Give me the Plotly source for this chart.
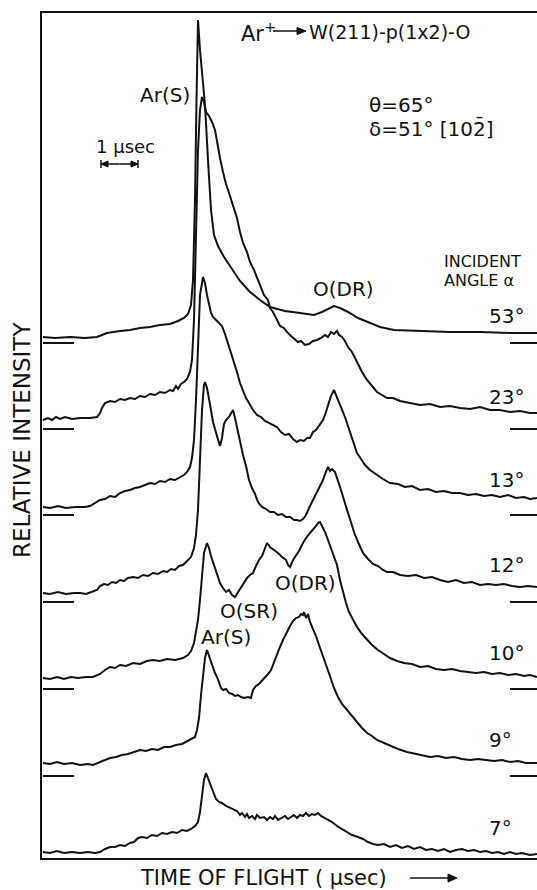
import plotly.graph_objects as go

# Time-of-flight spectra of Ar+ scattered from W(211)-p(1x2)-O.
# x: analyser channel (37 channels = 1 usec), y: counts above each trace's baseline.
CH_PER_USEC = 37

ANGLES = ["53°", "23°", "13°", "12°", "10°", "9°", "7°"]
OFFSETS = [519, 433, 347, 260, 173, 86, 0]

SPEC_53 = [(1, 6), (13, 5), (28, 6), (43, 5), (55, 6), (60, 8), (65, 10), (78, 12), (88, 13), (98, 15),
           (108, 16), (118, 18), (128, 19), (136, 22), (142, 25), (146, 29), (149, 38), (151, 63),
           (153, 143), (154.5, 243), (156, 323), (158, 293), (160, 268), (163, 238), (166, 183),
           (169, 133), (172, 108), (176, 97), (182, 86), (188, 77), (198, 62), (208, 51), (218, 43),
           (228, 36), (243, 32), (258, 30), (272, 28), (280, 31), (286, 34), (292, 37), (298, 35),
           (306, 31), (316, 25), (325, 21), (338, 16), (352, 13), (378, 12), (408, 11), (438, 11),
           (468, 10), (495, 10)]

SPEC_23 = [(1, 9), (6, 11), (10, 9), (14, 12), (18, 10), (23, 12), (30, 10), (38, 11), (48, 11), (55, 12),
           (58, 16), (60, 21), (63, 26), (68, 28), (73, 27), (78, 30), (83, 29), (88, 31), (93, 30),
           (98, 33), (103, 32), (108, 35), (113, 34), (118, 37), (123, 36), (128, 39), (131, 38),
           (134, 43), (136, 40), (139, 45), (142, 47), (145, 50), (148, 57), (150, 69), (152, 109),
           (154, 209), (156, 279), (158, 319), (160, 332), (162, 327), (164, 317), (167, 313),
           (170, 307), (173, 299), (174, 293), (176, 285), (178, 271), (181, 257), (184, 245),
           (188, 233), (192, 219), (195, 211), (198, 197), (201, 186), (205, 177), (208, 167),
           (212, 159), (215, 151), (218, 143), (222, 134), (226, 129), (228, 121), (231, 117),
           (235, 109), (238, 103), (242, 101), (245, 97), (249, 93), (252, 90), (256, 87), (259, 88),
           (263, 84), (267, 85), (271, 88), (275, 89), (279, 91), (283, 94), (286, 92), (289, 97),
           (292, 95), (295, 98), (297, 94), (300, 92), (303, 88), (306, 82), (310, 77),
           (315, 67), (320, 57), (325, 49), (330, 43), (335, 37), (340, 34), (345, 31), (351, 31),
           (358, 28), (368, 26), (378, 24), (388, 25), (398, 22), (408, 23), (418, 21), (428, 20),
           (438, 22), (448, 19), (458, 19), (468, 17), (478, 18), (488, 16), (495, 16)]

SPEC_13 = [(1, 8), (8, 7), (16, 9), (24, 7), (33, 8), (43, 8), (48, 9), (53, 12), (58, 15), (63, 16),
           (68, 19), (73, 18), (78, 22), (83, 24), (88, 25), (93, 27), (98, 28), (103, 30), (108, 32),
           (113, 31), (118, 34), (123, 33), (128, 36), (133, 35), (138, 38), (142, 40), (145, 43),
           (148, 48), (150, 57), (152, 75), (154, 115), (156, 175), (158, 220), (161, 238), (163, 232),
           (165, 220), (167, 210), (169, 202), (171, 198), (174, 195), (177, 193), (180, 189),
           (183, 181), (186, 172), (189, 162), (192, 153), (195, 143), (198, 132), (201, 125),
           (204, 117), (207, 112), (211, 105), (215, 100), (219, 98), (223, 94), (227, 92), (231, 90),
           (235, 88), (239, 83), (243, 80), (247, 81), (251, 76), (255, 73), (258, 75), (262, 74),
           (265, 77), (268, 77), (271, 83), (274, 85), (278, 91), (281, 95), (284, 103), (287, 112),
           (289, 119), (292, 125), (295, 118), (298, 111), (301, 103), (304, 95), (308, 83), (312, 70),
           (315, 62), (319, 56), (323, 50), (328, 45), (332, 42), (336, 39), (341, 36), (348, 32),
           (356, 31), (363, 28), (370, 29), (378, 25), (386, 26), (394, 23), (402, 24), (410, 22),
           (418, 22), (426, 20), (434, 21), (442, 19), (450, 20), (458, 18), (466, 20), (474, 17),
           (482, 18), (488, 16), (495, 17)]

SPEC_12 = [(1, 9), (8, 8), (16, 10), (24, 8), (32, 9), (38, 9), (44, 8), (50, 10), (55, 12), (58, 16),
           (62, 18), (66, 17), (70, 20), (74, 19), (78, 22), (82, 21), (86, 24), (91, 25), (96, 24),
           (101, 27), (106, 26), (111, 29), (116, 28), (121, 31), (125, 30), (129, 33), (133, 32),
           (137, 36), (141, 37), (145, 41), (149, 45), (152, 54), (154, 67), (156, 92), (158, 142),
           (160, 192), (162, 217), (163, 220), (165, 214), (167, 204), (169, 192), (171, 180),
           (173, 172), (175, 165), (177, 159), (178, 156), (180, 164), (182, 178), (184, 182),
           (187, 185), (189, 189), (191, 192), (193, 184), (195, 174), (197, 167), (199, 157),
           (201, 147), (204, 136), (207, 122), (210, 114), (213, 108), (216, 100), (220, 95), (224, 93),
           (228, 90), (232, 90), (236, 87), (240, 88), (244, 85), (248, 85), (252, 82), (255, 82),
           (258, 81), (261, 83), (264, 87), (267, 94), (270, 100), (273, 105), (276, 112), (279, 118),
           (281, 122), (283, 128), (285, 132), (286, 135), (288, 131), (290, 133), (293, 130),
           (296, 122), (299, 112), (302, 102), (305, 92), (308, 82), (312, 70), (316, 60), (321, 49),
           (326, 43), (331, 38), (336, 36), (341, 32), (345, 30), (351, 30), (358, 27), (366, 26),
           (374, 27), (382, 24), (390, 25), (398, 22), (406, 20), (414, 22), (422, 19), (430, 20),
           (438, 17), (446, 18), (454, 17), (462, 18), (470, 16), (478, 15), (486, 16), (495, 15)]

SPEC_10 = [(1, 11), (8, 10), (15, 12), (22, 10), (29, 12), (36, 11), (44, 12), (51, 12), (58, 15),
           (63, 19), (68, 22), (73, 21), (78, 24), (84, 23), (91, 26), (98, 25), (105, 28), (111, 29),
           (118, 28), (125, 30), (133, 29), (141, 31), (146, 34), (149, 38), (152, 46), (154, 57),
           (156, 69), (158, 89), (160, 114), (162, 136), (165, 146), (167, 141), (169, 133), (172, 124),
           (175, 114), (178, 106), (181, 101), (184, 97), (187, 99), (190, 94), (193, 92), (196, 97),
           (199, 101), (202, 106), (205, 111), (208, 114), (211, 116), (214, 123), (217, 129),
           (220, 133), (223, 141), (225, 146), (228, 142), (232, 139), (236, 136), (240, 132),
           (244, 129), (246, 124), (248, 122), (251, 129), (254, 133), (257, 138), (261, 146),
           (264, 151), (268, 156), (271, 159), (274, 163), (276, 166), (278, 167), (280, 163),
           (283, 157), (286, 149), (289, 141), (292, 134), (295, 124), (298, 109), (301, 97), (304, 86),
           (307, 77), (311, 69), (315, 62), (320, 55), (325, 49), (330, 44), (336, 39), (342, 35),
           (348, 31), (355, 28), (362, 26), (370, 25), (378, 22), (386, 23), (394, 20), (402, 19),
           (410, 20), (418, 18), (426, 17), (434, 16), (442, 17), (450, 15), (458, 16), (466, 14),
           (474, 15), (482, 13), (488, 14), (495, 12)]

SPEC_9 = [(1, 13), (8, 12), (15, 14), (22, 12), (30, 13), (38, 11), (46, 12), (51, 11), (58, 14), (63, 16),
          (68, 18), (74, 19), (80, 21), (86, 22), (92, 24), (98, 26), (104, 25), (110, 27), (116, 26),
          (122, 29), (128, 29), (134, 31), (140, 32), (146, 35), (150, 37), (153, 39), (155, 46),
          (157, 58), (159, 81), (161, 103), (163, 118), (165, 126), (167, 120), (169, 114), (171, 108),
          (173, 103), (175, 99), (177, 93), (179, 88), (181, 86), (184, 87), (187, 83), (190, 82),
          (193, 80), (196, 81), (199, 79), (202, 78), (206, 79), (209, 78), (211, 86), (214, 90),
          (217, 92), (220, 95), (223, 99), (226, 102), (229, 106), (232, 114), (235, 123), (238, 129),
          (241, 136), (245, 145), (248, 150), (251, 155), (254, 158), (257, 159), (259, 162),
          (261, 161), (262, 164), (264, 158), (266, 162), (268, 154), (271, 147), (274, 140),
          (277, 131), (280, 123), (283, 115), (286, 106), (289, 97), (292, 88), (296, 79), (300, 72),
          (305, 66), (310, 59), (315, 53), (320, 48), (325, 43), (330, 40), (335, 36), (342, 33),
          (349, 30), (356, 27), (365, 24), (373, 22), (380, 21), (388, 19), (396, 20), (404, 18),
          (412, 19), (420, 17), (428, 16), (436, 17), (444, 16), (452, 15), (460, 16), (468, 14),
          (476, 15), (484, 13), (495, 13)]

SPEC_7 = [(1, 10), (8, 9), (15, 11), (22, 9), (30, 10), (38, 9), (46, 10), (53, 9), (58, 10), (63, 13),
          (68, 15), (73, 15), (78, 17), (83, 16), (88, 19), (92, 20), (96, 24), (100, 25), (105, 24),
          (110, 27), (115, 26), (120, 29), (125, 28), (130, 30), (135, 29), (140, 32), (145, 31),
          (149, 33), (153, 36), (156, 40), (158, 50), (160, 67), (162, 82), (164, 89), (166, 84),
          (168, 77), (171, 70), (174, 63), (177, 60), (180, 59), (184, 56), (188, 54), (192, 52),
          (195, 51), (198, 47), (200, 49), (203, 45), (205, 48), (207, 44), (210, 46), (213, 43),
          (215, 47), (218, 44), (222, 45), (225, 42), (228, 45), (231, 43), (233, 46), (236, 42),
          (240, 44), (243, 46), (246, 43), (249, 45), (252, 47), (255, 44), (258, 47), (261, 46),
          (264, 49), (267, 46), (270, 48), (273, 47), (276, 49), (279, 46), (283, 44), (287, 42),
          (290, 40), (295, 36), (300, 33), (305, 30), (310, 27), (316, 25), (321, 23), (326, 20),
          (331, 18), (336, 17), (342, 18), (348, 15), (354, 17), (360, 14), (366, 16), (372, 13),
          (378, 15), (384, 12), (390, 13), (396, 11), (402, 13), (408, 10), (414, 12), (420, 13),
          (426, 11), (432, 12), (438, 10), (444, 11), (450, 9), (456, 10), (462, 8), (468, 10),
          (474, 8), (480, 9), (488, 7), (495, 8)]

SPECTRA = [SPEC_53, SPEC_23, SPEC_13, SPEC_12, SPEC_10, SPEC_9, SPEC_7]

INK = "#111111"
FONT = "DejaVu Sans"
X_MAX = 495
Y_RANGE = [4, 849]

# page geometry of the plotting frame, used for items placed outside it
W, H = 537, 890
PLOT_L, PLOT_R, PLOT_T, PLOT_B = 42, 537, 13, 858


def px_x(px):
    return (px - PLOT_L) / (PLOT_R - PLOT_L)


def px_y(py):
    return (PLOT_B - py) / (PLOT_B - PLOT_T)


fig = go.Figure()

for angle, off, spec in zip(ANGLES, OFFSETS, SPECTRA):
    fig.add_trace(go.Scatter(
        x=[p[0] for p in spec],
        y=[off + p[1] for p in spec],
        mode="lines",
        line=dict(color=INK, width=2),
        name=angle,
        showlegend=False,
        hoverinfo="skip",
    ))

shapes = []
# zero-level ticks at both ends of every offset spectrum
for off in OFFSETS[:-1]:
    shapes.append(dict(type="line", xref="x", yref="y", x0=1, x1=32, y0=off, y1=off,
                       line=dict(color=INK, width=2)))
    shapes.append(dict(type="line", xref="x", yref="y", x0=468, x1=X_MAX, y0=off, y1=off,
                       line=dict(color=INK, width=2)))


def arrow_shapes(x_tail, x_tip, y, head_len, head_half, xref="x", yref="y"):
    """Horizontal arrow: a shaft plus a filled triangular head."""
    sign = 1 if x_tip > x_tail else -1
    base = x_tip - sign * head_len
    return [
        dict(type="line", xref=xref, yref=yref, x0=x_tail, x1=base, y0=y, y1=y,
             line=dict(color=INK, width=1.5)),
        dict(type="path", xref=xref, yref=yref,
             path=f"M {x_tip},{y} L {base},{y + head_half} L {base},{y - head_half} Z",
             fillcolor=INK, line=dict(color=INK, width=1)),
    ]


# 1 usec scale bar with end stops
bar_x0 = 59
bar_x1 = bar_x0 + CH_PER_USEC
bar_y = 698
bar_mid = (bar_x0 + bar_x1) / 2
shapes += arrow_shapes(bar_mid, bar_x0, bar_y, 7, 3)
shapes += arrow_shapes(bar_mid, bar_x1, bar_y, 7, 3)
for bx in (bar_x0, bar_x1):
    shapes.append(dict(type="line", xref="x", yref="y", x0=bx, x1=bx, y0=bar_y - 4, y1=bar_y + 4,
                       line=dict(color=INK, width=1.5)))

# arrow in the title line
shapes += arrow_shapes(231, 264, 831, 9, 3.5)

# arrow after the time axis caption (outside the frame, paper units)
shapes += arrow_shapes(px_x(410), px_x(457), px_y(878), 9 / (PLOT_R - PLOT_L), 4 / (PLOT_B - PLOT_T),
                       xref="paper", yref="paper")


def label(text, x, y, size=20, anchor="center", **kw):
    return dict(text=text, x=x, y=y, xref=kw.pop("xref", "x"), yref=kw.pop("yref", "y"),
                xanchor=anchor, yanchor="middle", showarrow=False,
                font=dict(family=FONT, size=size, color=INK), **kw)


annotations = [
    label("Ar<sup>+</sup>", 197, 830, size=21, anchor="left"),
    label("W(211)-p(1x2)-O", 265, 830, size=19, anchor="left"),
    label("Ar(S)", 123, 767),
    label("1 µsec", 83, 716, size=18),
    label("θ=65°", 325, 757, anchor="left"),
    label("δ=51° [102\u0304]", 325, 734, anchor="left"),
    label("INCIDENT", 400, 601, size=16, anchor="left"),
    label("ANGLE α", 400, 582, size=16, anchor="left"),
    label("O(DR)", 301, 573),
    label("O(SR)", 207, 251),
    label("O(DR)", 263, 279),
    label("Ar(S)", 184, 225),
    label("RELATIVE INTENSITY", px_x(22), px_y(440), size=23, xref="paper", yref="paper",
          textangle=-90),
    label("TIME OF FLIGHT ( µsec)", px_x(138), px_y(878), size=21, anchor="left",
          xref="paper", yref="paper"),
]

ANGLE_LABEL_Y = [546, 465, 382, 297, 209, 122, 34]
for angle, ly in zip(ANGLES, ANGLE_LABEL_Y):
    annotations.append(label(angle, 445, ly, anchor="left"))

fig.update_layout(
    width=W, height=H,
    margin=dict(l=PLOT_L, r=W - PLOT_R, t=PLOT_T, b=H - PLOT_B),
    paper_bgcolor="white", plot_bgcolor="white",
    xaxis=dict(range=[0, X_MAX], showline=True, mirror=True, linecolor=INK, linewidth=2,
               showticklabels=False, ticks="", showgrid=False, zeroline=False),
    yaxis=dict(range=Y_RANGE, showline=True, mirror=False, linecolor=INK, linewidth=2,
               showticklabels=False, ticks="", showgrid=False, zeroline=False),
    shapes=shapes,
    annotations=annotations,
)

fig.write_html("out.html")
